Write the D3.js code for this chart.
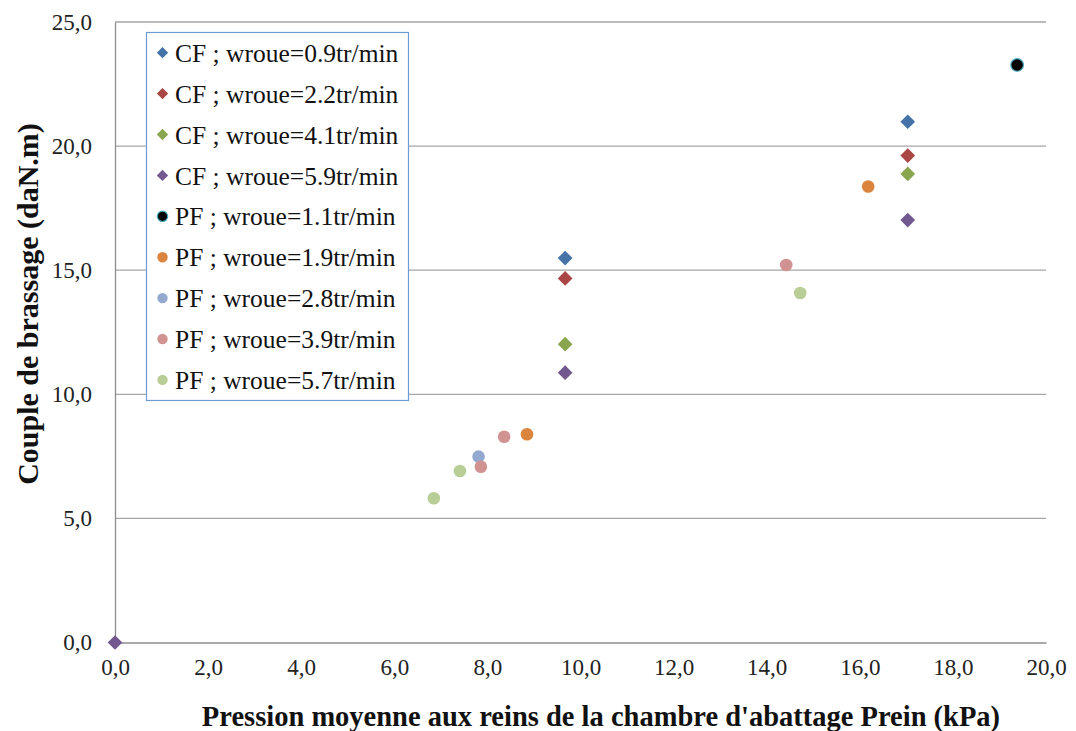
<!DOCTYPE html>
<html><head><meta charset="utf-8">
<script src="https://cdn.jsdelivr.net/npm/d3@7"></script>
</head><body style="margin:0"><svg id="c" width="1076" height="731"></svg>
<script>
const seriesNames = ["CF ; wroue=0.9tr/min","CF ; wroue=2.2tr/min","CF ; wroue=4.1tr/min","CF ; wroue=5.9tr/min","PF ; wroue=1.1tr/min","PF ; wroue=1.9tr/min","PF ; wroue=2.8tr/min","PF ; wroue=3.9tr/min","PF ; wroue=5.7tr/min"];
const seriesShapes = ["diamond","diamond","diamond","diamond","circle","circle","circle","circle","circle"];
const seriesColors = ["#4572A7","#AA4643","#89A54E","#71588F","#000000","#DB843D","#93A9CF","#D19392","#B9CD96"];
const cf09 = [[9.67,15.49],[17.03,20.98]];
const cf22 = [[9.67,14.67],[17.03,19.62]];
const cf41 = [[9.67,12.02],[17.03,18.88]];
const cf59 = [[0,0],[9.67,10.87],[17.03,17.02]];
const pf11 = [[19.38,23.27]];
const pf19 = [[8.85,8.39],[16.18,18.37]];
const pf28 = [[7.81,7.49]];
const pf39 = [[8.36,8.29],[7.86,7.08],[14.42,15.21]];
const pf57 = [[6.85,5.81],[7.41,6.91],[14.72,14.08]];
const seriesData = [cf09,cf22,cf41,cf59,pf11,pf19,pf28,pf39,pf57];
const xTicks = [0,2,4,6,8,10,12,14,16,18,20];
const yTicks = [0,5,10,15,20,25];
const xTitle = "Pression moyenne aux reins de la chambre d'abattage Prein (kPa)";
const yTitle = "Couple de brassage (daN.m)";

const svg = d3.select("#c");
const L=115, R=1046, T=22, B=642.5;
const x = d3.scaleLinear().domain([0,20]).range([L,R]);
const y = d3.scaleLinear().domain([0,25]).range([B,T]);
const fmt = d => d.toFixed(1).replace(".", ",");
const FF = "Liberation Serif";

// gridlines
svg.append("g").selectAll("line").data(yTicks.filter(d=>d>0)).join("line")
  .attr("x1",L).attr("x2",R).attr("y1",d=>y(d)).attr("y2",d=>y(d))
  .attr("stroke","#a6a6a6").attr("stroke-width",1.3);

// axes
const xAxis = svg.append("g").attr("transform",`translate(0,${B})`)
  .call(d3.axisBottom(x).tickValues(xTicks).tickFormat(fmt).tickSize(0).tickPadding(30));
const yAxis = svg.append("g").attr("transform",`translate(${L},0)`)
  .call(d3.axisLeft(y).tickValues(yTicks).tickFormat(fmt).tickSize(0).tickPadding(23));
[xAxis,yAxis].forEach(a=>{
  a.attr("font-family",FF).attr("font-size",23);
  a.select(".domain").attr("stroke","#8c8c8c").attr("stroke-width",1.3);
  a.selectAll("text").attr("font-family",FF).attr("font-size",23).attr("fill","#222");
});
xAxis.selectAll("text").attr("dy","0.1em");

// titles
svg.append("text").attr("x",601).attr("y",726).attr("text-anchor","middle")
  .attr("font-family",FF).attr("font-weight","bold").attr("font-size",28.5).attr("fill","#111").text(xTitle);
svg.append("text").attr("transform",`translate(38,${304}) rotate(-90)`).attr("text-anchor","middle")
  .attr("font-family",FF).attr("font-weight","bold").attr("font-size",30).attr("fill","#111").text(yTitle);

const diamond = d3.symbol().type(d3.symbolSquare).size(108);

// points
seriesData.forEach((pts,i)=>{
  pts.forEach(p=>{
    const t = `translate(${x(p[0])},${y(p[1])})`;
    if(seriesShapes[i]==="diamond"){
      svg.append("path").attr("d",diamond()).attr("transform",t+" rotate(45)").attr("fill",seriesColors[i]);
    } else {
      svg.append("circle").attr("cx",x(p[0])).attr("cy",y(p[1])).attr("r",6.3).attr("fill",seriesColors[i])
        .attr("stroke", i===4 ? "#4BACC6" : "none").attr("stroke-width",1.2);
    }
  });
});

// legend
const lg = svg.append("g");
lg.append("rect").attr("x",146.5).attr("y",32.5).attr("width",262).attr("height",368)
  .attr("fill","#fff").attr("stroke","#6f9bd3").attr("stroke-width",1.2);
seriesNames.forEach((n,i)=>{
  const cy = 52.7 + i*40.9;
  const t = `translate(162.5,${cy})`;
  if(seriesShapes[i]==="diamond"){
    lg.append("path").attr("d",d3.symbol().type(d3.symbolSquare).size(64)()).attr("transform",t+" rotate(45)").attr("fill",seriesColors[i]);
  } else {
    lg.append("circle").attr("cx",162.5).attr("cy",cy).attr("r",5.2).attr("fill",seriesColors[i])
      .attr("stroke", i===4 ? "#4BACC6" : "none").attr("stroke-width",1.2);
  }
  lg.append("text").attr("x",175).attr("y",cy).attr("dy","0.36em")
    .attr("font-family",FF).attr("font-size",25.5).attr("fill","#111").text(n);
});
</script></body></html>
